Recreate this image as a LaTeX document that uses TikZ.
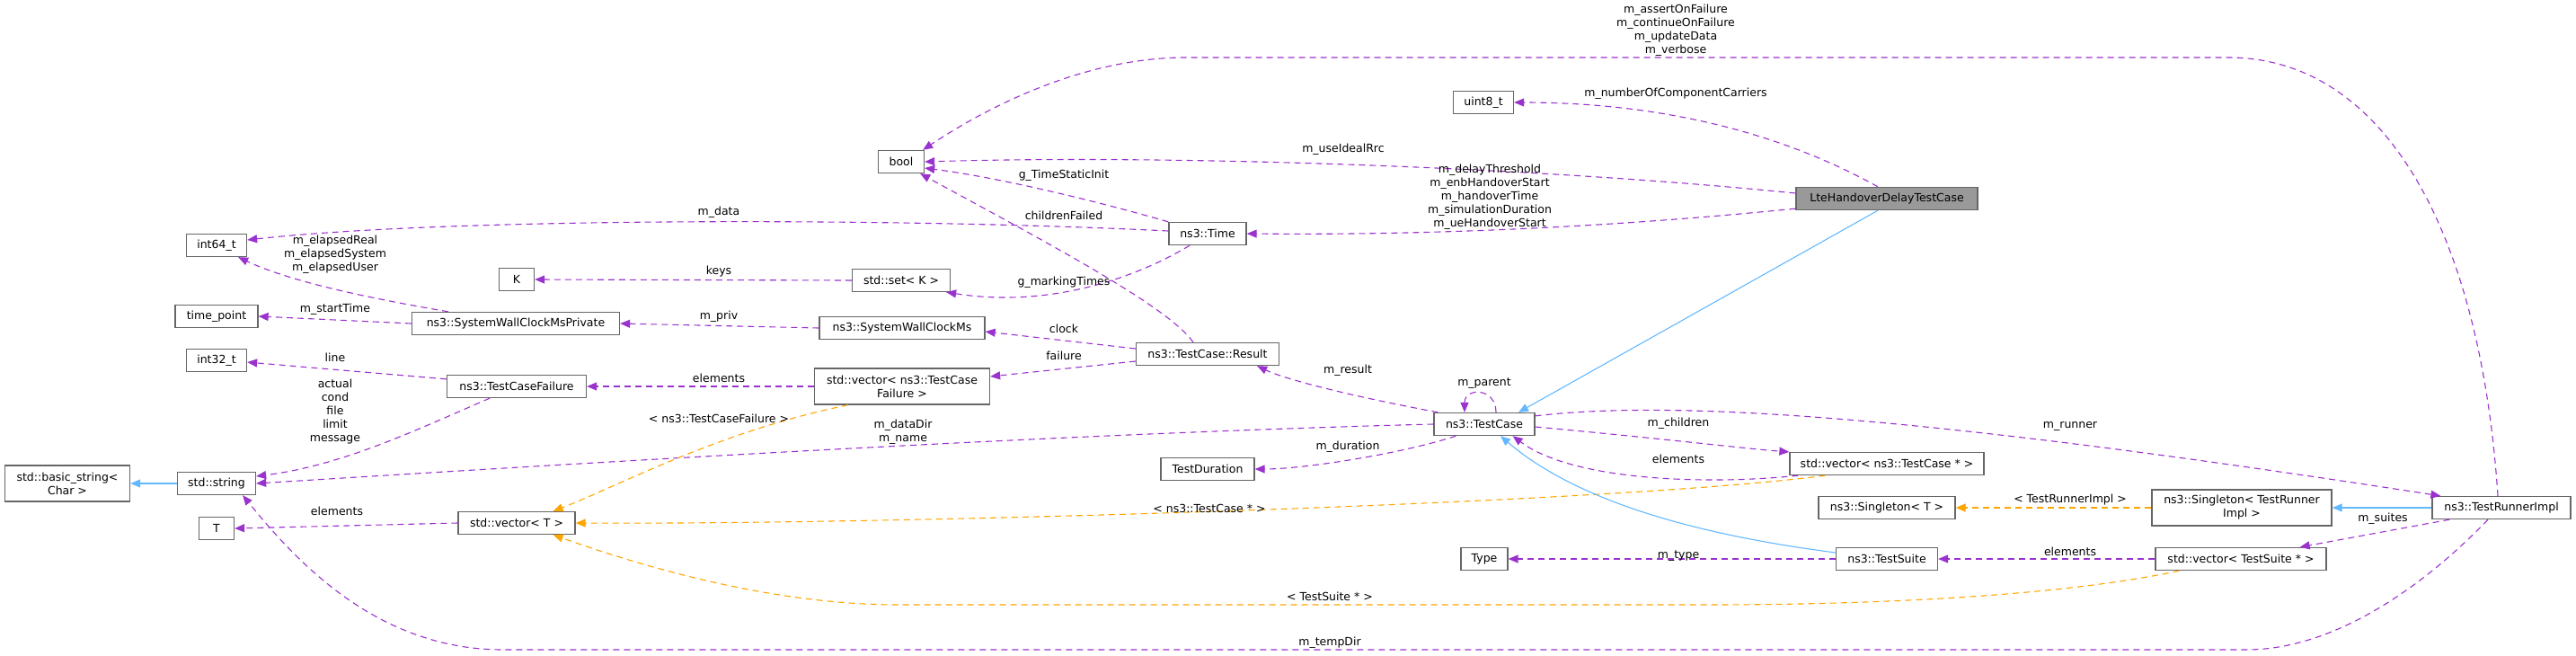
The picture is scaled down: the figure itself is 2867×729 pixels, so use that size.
\documentclass[tikz,border=0pt]{standalone}
\usepackage{fontspec}
\setmainfont{DejaVu Sans}
\usetikzlibrary{arrows.meta,calc}
\definecolor{purp}{HTML}{9A32CD}
\definecolor{blu}{HTML}{63B8FF}
\definecolor{orng}{HTML}{FFA500}
\definecolor{boxgray}{HTML}{666666}
\definecolor{ltefill}{HTML}{999999}
\begin{document}
\begin{tikzpicture}[x=1pt,y=-1pt,
  box/.style={draw=boxgray,line width=1.3pt,fill=white,minimum height=25pt,inner sep=0pt,font=\fontsize{12.5}{15}\selectfont,align=center},
  box2/.style={box,minimum height=40pt},
  lbl/.style={font=\fontsize{12.5}{15}\selectfont,align=center,inner sep=0pt},
  mem/.style={draw=purp,line width=1.1pt,dash pattern=on 7pt off 5pt,-{Triangle[length=11pt,width=9pt]}},
  inh/.style={draw=blu,line width=1.1pt,-{Triangle[length=11pt,width=9pt]}},
  tpl/.style={draw=orng,line width=1.1pt,dash pattern=on 7pt off 5pt,-{Triangle[length=11pt,width=9pt]}}]
\useasboundingbox (0,0) rectangle (2867,729);
% nodes
\node[box,fill=ltefill,minimum width=202pt] (lte) at (2100,221) {LteHandoverDelayTestCase};
\node[box,minimum width=67pt] (u8) at (1651,114) {uint8\_t};
\node[box,minimum width=51pt] (bool) at (1003,180) {bool};
\node[box,minimum width=67pt] (i64) at (241,273) {int64\_t};
\node[box,minimum width=39pt] (K) at (575,311) {K};
\node[box,minimum width=109pt] (set) at (1003,312) {std::set\textless{} K \textgreater{}};
\node[box,minimum width=86pt] (time) at (1344,260) {ns3::Time};
\node[box,minimum width=92pt] (tp) at (241,352) {time\_point};
\node[box,minimum width=231pt] (swcmp) at (574,360) {ns3::SystemWallClockMsPrivate};
\node[box,minimum width=184pt] (swcm) at (1004,365) {ns3::SystemWallClockMs};
\node[box,minimum width=159pt] (res) at (1344,394) {ns3::TestCase::Result};
\node[box,minimum width=67pt] (i32) at (241,401) {int32\_t};
\node[box,minimum width=155pt] (tcf) at (575,430) {ns3::TestCaseFailure};
\node[box2,minimum width=195pt] (vtcf) at (1004,430) {std::vector\textless{} ns3::TestCase\\Failure \textgreater{}};
\node[box2,minimum width=139pt] (bstr) at (75,538) {std::basic\_string\textless{}\\Char \textgreater{}};
\node[box,minimum width=87pt] (str) at (241,538) {std::string};
\node[box,minimum width=39pt] (T) at (241,588) {T};
\node[box,minimum width=130pt] (vt) at (575,582) {std::vector\textless{} T \textgreater{}};
\node[box,minimum width=112pt] (tc) at (1652,472) {ns3::TestCase};
\node[box,minimum width=104pt] (td) at (1344,522) {TestDuration};
\node[box,minimum width=216pt] (vtc) at (2100,516) {std::vector\textless{} ns3::TestCase * \textgreater{}};
\node[box,minimum width=152pt] (singT) at (2100,565) {ns3::Singleton\textless{} T \textgreater{}};
\node[box2,minimum width=200pt] (singR) at (2495,565) {ns3::Singleton\textless{} TestRunner\\Impl \textgreater{}};
\node[box,minimum width=154pt] (tri) at (2784,565) {ns3::TestRunnerImpl};
\node[box,minimum width=52pt] (type) at (1652,622) {Type};
\node[box,minimum width=113pt] (ts) at (2100,622) {ns3::TestSuite};
\node[box,minimum width=190pt] (vts) at (2494,622) {std::vector\textless{} TestSuite * \textgreater{}};
% edges
\draw[mem] ($(tri.north)+(-4,0)$) .. controls (2760,250) and (2650,64) .. (2480,64) -- (1320,64) .. controls (1200,64) and (1090,125) .. ($(bool.north east)+(-2,0)$);
\draw[mem] ($(lte.north)+(-10,0)$) .. controls (1950,130) and (1800,114) .. (u8.east);
\draw[mem] ($(lte.west)+(0,-6)$) .. controls (1700,185) and (1300,172) .. (bool.east);
\draw[mem] ($(lte.south west)+(0,-2)$) .. controls (1800,252) and (1600,262) .. (time.east);
\draw[mem] ($(time.west)+(0,-3)$) .. controls (1000,242) and (500,242) .. ($(i64.east)+(0,-6)$);
\draw[mem] ($(time.north west)+(0,0)$) .. controls (1200,218) and (1100,196) .. ($(bool.east)+(0,7)$);
\draw[mem] ($(res.north)+(-16,0)$) .. controls (1300,340) and (1150,262) .. ($(bool.south east)+(-5,0)$);
\draw[mem] ($(time.south)+(-20,0)$) .. controls (1280,300) and (1180,345) .. ($(set.south east)+(-5,0)$);
\draw[mem] ($(res.west)+(0,-6)$) -- ($(swcm.east)+(0,4)$);
\draw[mem] ($(res.west)+(0,8)$) -- ($(vtcf.east)+(0,-11)$);
\draw[mem] (set.west) -- (K.east);
\draw[mem] (swcm.west) -- (swcmp.east);
\draw[mem] ($(swcmp.north)+(-75,0)$) .. controls (400,330) and (320,312) .. ($(i64.south east)+(-10,0)$);
\draw[mem] (swcmp.west) -- (tp.east);
\draw[mem] (vtcf.west) -- (tcf.east);
\draw[mem] ($(tcf.north west)+(0,5)$) -- ($(i32.east)+(0,2)$);
\draw[mem] ($(tcf.south)+(-30,0)$) .. controls (460,480) and (380,518) .. ($(str.east)+(0,-8)$);
\draw[mem] (tc.west) .. controls (1200,482) and (700,512) .. (str.east);
\draw[mem] (vt.west) -- (T.east);
\draw[mem] ($(tri.south)+(-15,0)$) .. controls (2700,650) and (2600,723) .. (2500,723) -- (560,723) .. controls (420,723) and (330,625) .. ($(str.south east)+(-15,0)$);
\draw[tpl] ($(vtcf.south)+(-60,0)$) .. controls (800,480) and (690,540) .. ($(vt.north east)+(-25,0)$);
\draw[tpl] ($(vtc.south west)+(40,0)$) .. controls (1800,560) and (1000,584) .. (vt.east);
\draw[tpl] ($(vts.south west)+(27,0)$) .. controls (2300,662) and (2100,673) .. (1900,673) -- (1000,673) .. controls (850,673) and (700,625) .. ($(vt.south east)+(-25,0)$);
\draw[mem] ($(tc.north west)+(5,0)$) .. controls (1500,440) and (1430,422) .. ($(res.south east)+(-25,0)$);
\draw[mem] ($(tc.south west)+(25,0)$) .. controls (1560,505) and (1450,522) .. (td.east);
\draw[mem] ($(tc.north)+(13,0)$) .. controls ($(tc.north)+(13,-28)$) and ($(tc.north)+(-22,-28)$) .. ($(tc.north)+(-22,0)$);
\draw[mem] ($(tc.east)+(0,3)$) .. controls (1850,488) and (1950,500) .. (vtc.north west);
\draw[mem] ($(vtc.south west)+(10,0)$) .. controls (1900,540) and (1750,535) .. ($(tc.south east)+(-25,0)$);
\draw[mem] ($(tc.north east)+(0,4)$) .. controls (1900,440) and (2250,480) .. ($(tri.north west)+(10,0)$);
\draw[inh] ($(lte.south)+(-10,0)$) -- ($(tc.north)+(38,0)$);
\draw[inh] ($(ts.west)+(0,-7)$) .. controls (1850,590) and (1740,545) .. ($(tc.south)+(18,0)$);
\draw[inh] (tri.west) -- (singR.east);
\draw[tpl] (singR.west) -- (singT.east);
\draw[mem] ($(tri.south west)+(20,0)$) -- ($(vts.north east)+(-30,0)$);
\draw[mem] (vts.west) -- (ts.east);
\draw[mem] (ts.west) -- (type.east);
\draw[inh] (str.west) -- (bstr.east);
% labels
\node[lbl] at (1865,34) {m\_assertOnFailure\\m\_continueOnFailure\\m\_updateData\\m\_verbose};
\node[lbl] at (1865,104) {m\_numberOfComponentCarriers};
\node[lbl] at (1495,166) {m\_useIdealRrc};
\node[lbl] at (1658,219) {m\_delayThreshold\\m\_enbHandoverStart\\m\_handoverTime\\m\_simulationDuration\\m\_ueHandoverStart};
\node[lbl] at (800,236) {m\_data};
\node[lbl] at (1184,195) {g\_TimeStaticInit};
\node[lbl] at (1184,240) {childrenFailed};
\node[lbl] at (1184,314) {g\_markingTimes};
\node[lbl] at (800,302) {keys};
\node[lbl] at (800,352) {m\_priv};
\node[lbl] at (1184,366) {clock};
\node[lbl] at (1184,396) {failure};
\node[lbl] at (800,421) {elements};
\node[lbl] at (373,283) {m\_elapsedReal\\m\_elapsedSystem\\m\_elapsedUser};
\node[lbl] at (373,344) {m\_startTime};
\node[lbl] at (373,398) {line};
\node[lbl] at (373,458) {actual\\cond\\file\\limit\\message};
\node[lbl] at (375,569) {elements};
\node[lbl] at (800,466) {\textless{} ns3::TestCaseFailure \textgreater{}};
\node[lbl] at (1005,481) {m\_dataDir\\m\_name};
\node[lbl] at (1346,566) {\textless{} ns3::TestCase * \textgreater{}};
\node[lbl] at (1500,412) {m\_result};
\node[lbl] at (1500,497) {m\_duration};
\node[lbl] at (1652,427) {m\_parent};
\node[lbl] at (1868,471) {m\_children};
\node[lbl] at (1868,511) {elements};
\node[lbl] at (2304,474) {m\_runner};
\node[lbl] at (2304,556) {\textless{} TestRunnerImpl \textgreater{}};
\node[lbl] at (2652,577) {m\_suites};
\node[lbl] at (2304,614) {elements};
\node[lbl] at (1868,619) {m\_type};
\node[lbl] at (1480,664) {\textless{} TestSuite * \textgreater{}};
\node[lbl] at (1480,715) {m\_tempDir};
\end{tikzpicture}
\end{document}
